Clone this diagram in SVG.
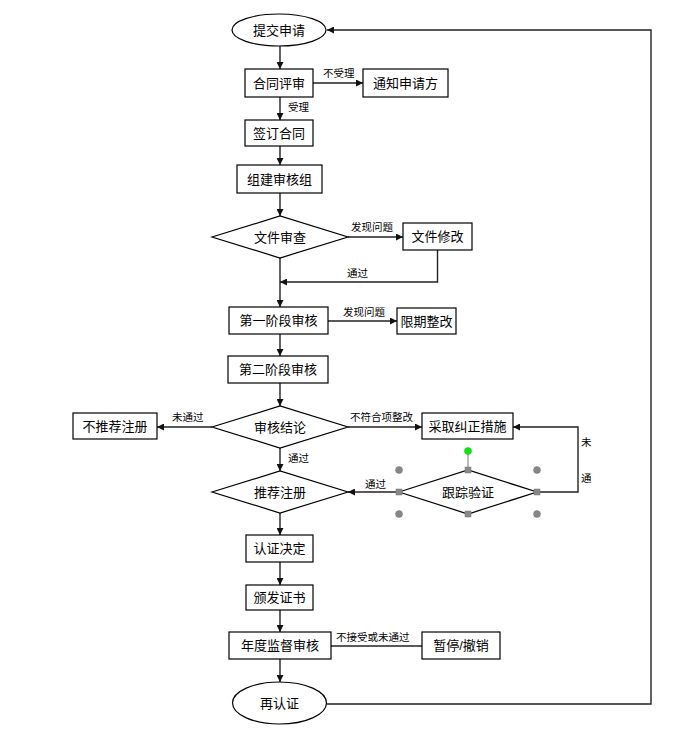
<svg xmlns="http://www.w3.org/2000/svg" width="678" height="747" viewBox="0 0 678 747">
<defs>
<marker id="arr" viewBox="0 0 10 10" refX="10" refY="5" markerWidth="7" markerHeight="7" markerUnits="userSpaceOnUse" orient="auto">
<path d="M0,0 L10,5 L0,10 Z" fill="#111"/>
</marker>
</defs>
<style>
.n{fill:#fff;stroke:#000;stroke-width:1.2}
.t{font-family:"Liberation Sans","Noto Sans CJK SC",sans-serif;font-size:13px;fill:#000;text-anchor:middle;dominant-baseline:central}
.l{font-family:"Liberation Sans","Noto Sans CJK SC",sans-serif;font-size:10.5px;fill:#000}
.c{fill:none;stroke:#222;stroke-width:1.4}
.a{marker-end:url(#arr)}
.hs{fill:#888;stroke:#777;stroke-width:0.5}
.hc{fill:#888;stroke:#777;stroke-width:0.5}
</style>
<rect width="678" height="747" fill="#fff"/>
<g id="connectors">
<line class="c a" x1="280" y1="45" x2="280" y2="69"/>
<line class="c a" x1="313" y1="83" x2="363" y2="83"/>
<line class="c a" x1="280" y1="97" x2="280" y2="120"/>
<line class="c a" x1="280" y1="146" x2="280" y2="165"/>
<line class="c a" x1="280" y1="193" x2="280" y2="216"/>
<line class="c a" x1="348" y1="237" x2="403" y2="237"/>
<polyline class="c a" points="437.5,250 437.5,282 280,282"/>
<line class="c a" x1="280" y1="257" x2="280" y2="307"/>
<line class="c a" x1="328" y1="321" x2="397" y2="321"/>
<line class="c a" x1="280" y1="334" x2="280" y2="356"/>
<line class="c a" x1="280" y1="383" x2="280" y2="406"/>
<line class="c a" x1="212" y1="427" x2="157" y2="427"/>
<line class="c a" x1="348" y1="427" x2="422" y2="427"/>
<line class="c a" x1="280" y1="448" x2="280" y2="471"/>
<polyline class="c a" points="537,492 578,492 578,427 513,427"/>
<line class="c a" x1="399" y1="492" x2="348" y2="492"/>
<line class="c a" x1="280" y1="513" x2="280" y2="535"/>
<line class="c a" x1="280" y1="562" x2="280" y2="585"/>
<line class="c a" x1="280" y1="610" x2="280" y2="632"/>
<line class="c" x1="331" y1="646" x2="422" y2="646"/>
<line class="c a" x1="280" y1="659" x2="280" y2="682"/>
<polyline class="c a" points="327,704 651,704 651,30 327,30"/>
<text class="l" x="323" y="77">不受理</text>
<text class="l" x="288" y="111">受理</text>
<text class="l" x="351" y="231">发现问题</text>
<text class="l" x="347" y="277">通过</text>
<text class="l" x="343" y="316">发现问题</text>
<text class="l" x="172" y="421">未通过</text>
<text class="l" x="350" y="421">不符合项整改</text>
<text class="l" x="288" y="462">通过</text>
<text class="l" x="365" y="488">通过</text>
<text class="l" x="581" y="446">未</text>
<text class="l" x="581" y="482">通</text>
<text class="l" x="336" y="641">不接受或未通过</text>
</g>
<g id="n1"><ellipse class="n" cx="279" cy="30" rx="47" ry="16"/><text class="t" x="279" y="30">提交申请</text></g>
<g id="n2"><rect class="n" x="245" y="69" width="68" height="28"/><text class="t" x="279" y="83">合同评审</text></g>
<g id="n3"><rect class="n" x="363" y="69" width="85" height="28"/><text class="t" x="405.5" y="83">通知申请方</text></g>
<g id="n4"><rect class="n" x="245" y="120" width="68" height="26"/><text class="t" x="279" y="133">签订合同</text></g>
<g id="n5"><rect class="n" x="237" y="165" width="85" height="28"/><text class="t" x="279.5" y="179">组建审核组</text></g>
<g id="n6"><polygon class="n" points="212,237 280,216 348,237 280,258"/><text class="t" x="280" y="237">文件审查</text></g>
<g id="n7"><rect class="n" x="403" y="223" width="69" height="27"/><text class="t" x="437.5" y="236.5">文件修改</text></g>
<g id="n8"><rect class="n" x="229" y="307" width="99" height="27"/><text class="t" x="278.5" y="320.5">第一阶段审核</text></g>
<g id="n9"><rect class="n" x="397" y="308" width="59" height="26"/><text class="t" x="426.5" y="321">限期整改</text></g>
<g id="n10"><rect class="n" x="228" y="356" width="100" height="27"/><text class="t" x="278" y="369.5">第二阶段审核</text></g>
<g id="n11"><polygon class="n" points="212,427 280,406 348,427 280,448"/><text class="t" x="280" y="427">审核结论</text></g>
<g id="n12"><rect class="n" x="73" y="413" width="84" height="26"/><text class="t" x="115" y="426">不推荐注册</text></g>
<g id="n13"><rect class="n" x="422" y="413" width="91" height="26"/><text class="t" x="467.5" y="426">采取纠正措施</text></g>
<g id="n14"><polygon class="n" points="212,492 280,471 348,492 280,513"/><text class="t" x="280" y="492">推荐注册</text></g>
<g id="n15"><polygon class="n" points="399,492 468,470 537,492 468,514"/><text class="t" x="468" y="492">跟踪验证</text>
<line x1="468" y1="451" x2="468" y2="470" stroke="#777" stroke-width="1"/>
<circle cx="468" cy="451" r="3.5" fill="#00ee00" stroke="#4a4" stroke-width="0.6"/>
<rect class="hs" x="465" y="467" width="6" height="6"/><rect class="hs" x="465" y="511" width="6" height="6"/>
<rect class="hs" x="396" y="489" width="6" height="6"/><rect class="hs" x="534" y="489" width="6" height="6"/>
<circle class="hc" cx="399" cy="470" r="3.5"/><circle class="hc" cx="537" cy="470" r="3.5"/>
<circle class="hc" cx="399" cy="514" r="3.5"/><circle class="hc" cx="537" cy="514" r="3.5"/>
</g>
<g id="n16"><rect class="n" x="246" y="535" width="67" height="27"/><text class="t" x="279.5" y="548.5">认证决定</text></g>
<g id="n17"><rect class="n" x="246" y="585" width="67" height="25"/><text class="t" x="279.5" y="597.5">颁发证书</text></g>
<g id="n18"><rect class="n" x="229" y="632" width="102" height="27"/><text class="t" x="280" y="645.5">年度监督审核</text></g>
<g id="n19"><rect class="n" x="422" y="632" width="78" height="27"/><text class="t" x="461" y="645.5">暂停/撤销</text></g>
<g id="n20"><ellipse class="n" cx="279.5" cy="703" rx="47" ry="21"/><text class="t" x="279.5" y="703">再认证</text></g>
</svg>
